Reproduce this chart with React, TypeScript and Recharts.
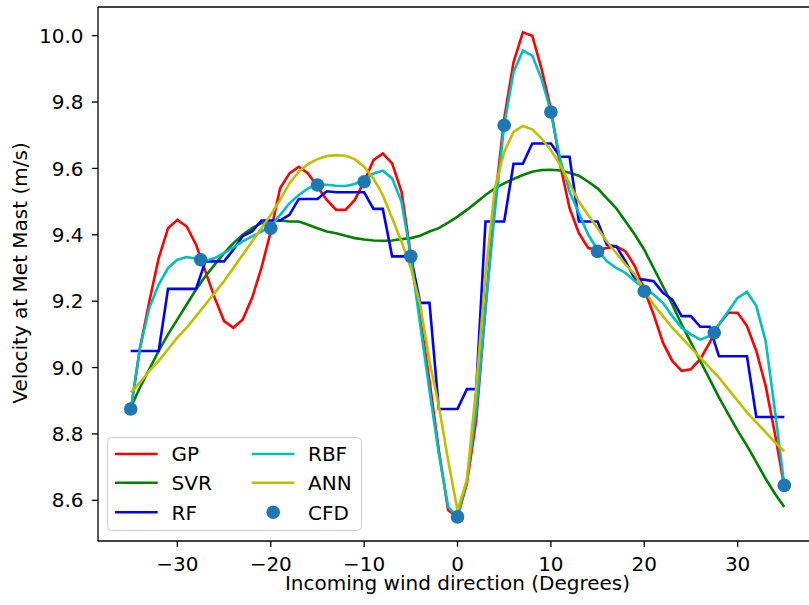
import { ComposedChart, Line, Scatter, XAxis, YAxis, ReferenceLine } from "recharts"

// incoming wind direction, degrees
const DEG = [
  -35, -34, -33, -32, -31, -30, -29, -28, -27, -26, -25, -24, -23, -22, -21, -20, -19, -18,
  -17, -16, -15, -14, -13, -12, -11, -10, -9, -8, -7, -6, -5, -4, -3, -2, -1, 0, 1, 2, 3, 4,
  5, 6, 7, 8, 9, 10, 11, 12, 13, 14, 15, 16, 17, 18, 19, 20, 21, 22, 23, 24, 25, 26, 27,
  28, 29, 30, 31, 32, 33, 34, 35,
]

const GP = [
  8.87, 9.06, 9.2, 9.33, 9.42, 9.445, 9.425, 9.37, 9.29, 9.21, 9.14, 9.12, 9.145, 9.21,
  9.3, 9.41, 9.54, 9.585, 9.605, 9.585, 9.545, 9.505, 9.475, 9.475, 9.505, 9.56, 9.625,
  9.645, 9.615, 9.53, 9.34, 9.15, 8.96, 8.75, 8.57, 8.55, 8.65, 8.84, 9.18, 9.5, 9.75,
  9.92, 10.01, 10.0, 9.9, 9.78, 9.61, 9.48, 9.405, 9.36, 9.355, 9.36, 9.365, 9.35, 9.305,
  9.235, 9.16, 9.075, 9.02, 8.99, 8.995, 9.025, 9.075, 9.13, 9.165, 9.165, 9.125, 9.05,
  8.945, 8.8, 8.64,
]

const SVR = [
  8.88, 8.94, 8.995, 9.05, 9.1, 9.145, 9.19, 9.235, 9.275, 9.31, 9.345, 9.375, 9.4, 9.42,
  9.435, 9.44, 9.443, 9.44, 9.44, 9.43, 9.42, 9.41, 9.405, 9.397, 9.39, 9.386, 9.383,
  9.382, 9.383, 9.387, 9.39, 9.397, 9.41, 9.42, 9.437, 9.455, 9.475, 9.497, 9.52, 9.54,
  9.555, 9.568, 9.58, 9.59, 9.595, 9.596, 9.594, 9.587, 9.578, 9.56, 9.54, 9.51, 9.48,
  9.44, 9.4, 9.355, 9.3, 9.245, 9.19, 9.13, 9.075, 9.02, 8.965, 8.91, 8.86, 8.81, 8.765,
  8.715, 8.665, 8.62, 8.58,
]

const RF = [
  9.05, 9.05, 9.05, 9.05, 9.237, 9.237, 9.237, 9.237, 9.32, 9.32, 9.32, 9.355, 9.396, 9.41,
  9.443, 9.443, 9.443, 9.46, 9.508, 9.508, 9.508, 9.531, 9.528, 9.528, 9.528, 9.528, 9.478,
  9.478, 9.335, 9.335, 9.335, 9.195, 9.195, 8.875, 8.875, 8.875, 8.935, 8.935, 9.44, 9.44,
  9.44, 9.614, 9.614, 9.675, 9.675, 9.675, 9.635, 9.635, 9.44, 9.44, 9.44, 9.37, 9.365,
  9.32, 9.267, 9.265, 9.26, 9.225, 9.205, 9.155, 9.155, 9.123, 9.123, 9.034, 9.034, 9.034,
  9.034, 8.851, 8.851, 8.851, 8.851,
]

const RBF = [
  8.87, 9.06, 9.18, 9.25, 9.3, 9.325, 9.333, 9.328, 9.322, 9.33, 9.345, 9.362, 9.38, 9.395,
  9.41, 9.425, 9.46, 9.495, 9.52, 9.54, 9.552, 9.551, 9.548, 9.547, 9.553, 9.565, 9.585,
  9.593, 9.57, 9.5, 9.335, 9.13, 8.93, 8.74, 8.58, 8.55, 8.66, 8.87, 9.18, 9.47, 9.73,
  9.89, 9.955, 9.94, 9.87, 9.77, 9.627, 9.53, 9.465, 9.4, 9.355, 9.32, 9.3, 9.285, 9.26,
  9.24, 9.22, 9.195, 9.155, 9.12, 9.1, 9.084, 9.095, 9.13, 9.17, 9.21, 9.228, 9.185, 9.08,
  8.87, 8.645,
]

const ANN = [
  8.925, 8.955, 8.99, 9.02, 9.055, 9.09, 9.12, 9.155, 9.19, 9.225, 9.26, 9.3, 9.34, 9.38,
  9.42, 9.46, 9.505, 9.555, 9.59, 9.613, 9.628, 9.637, 9.64, 9.638, 9.628, 9.605, 9.57,
  9.52, 9.45, 9.38, 9.3, 9.19, 9.02, 8.885, 8.72, 8.57, 8.66, 8.94, 9.28, 9.54, 9.65, 9.71,
  9.728, 9.718, 9.69, 9.655, 9.61, 9.555, 9.5, 9.46, 9.42, 9.38, 9.345, 9.31, 9.28, 9.235,
  9.19, 9.155, 9.12, 9.09, 9.06, 9.03, 9.0, 8.97, 8.935, 8.9, 8.865, 8.835, 8.805, 8.775,
  8.748,
]

const CFD_DEG = [-35, -27.5, -20, -15, -10, -5, 0, 5, 10, 15, 20, 27.5, 35]
const CFD = [8.875, 9.325, 9.42, 9.55, 9.56, 9.335, 8.55, 9.73, 9.77, 9.35, 9.23, 9.105, 8.645]

const X_TICKS = [-30, -20, -10, 0, 10, 20, 30]
const Y_TICKS = [8.6, 8.8, 9.0, 9.2, 9.4, 9.6, 9.8, 10.0]

const FONT = "'DejaVu Sans', sans-serif"
const X_DOMAIN: [number, number] = [-38.5, 38.5]
const Y_DOMAIN: [number, number] = [8.4774, 10.0864]

const SERIES = [
  { name: "GP", color: "#ff0000", values: GP },
  { name: "SVR", color: "#008000", values: SVR },
  { name: "RF", color: "#0000ff", values: RF },
  { name: "RBF", color: "#00bfbf", values: RBF },
  { name: "ANN", color: "#bfbf00", values: ANN },
]
const CFD_COLOR = "#1f77b4"

const rows = (ys: number[]) => DEG.map((x, i) => ({ x, v: ys[i] }))
const cfdRows = CFD_DEG.map((x, i) => ({ x, v: CFD[i] }))

const fmtX = (v: number) => (v < 0 ? `\u2212${Math.abs(v)}` : `${v}`)

function ChartLegend() {
  const rowY = [17, 45.7, 75.3]
  const cols = [
    { handle: 8, text: 64.6, items: SERIES.slice(0, 3) },
    { handle: 144.7, text: 201, items: [...SERIES.slice(3), { name: "CFD", color: CFD_COLOR, values: [] }] },
  ]
  return (
    <svg
      width={256}
      height={95}
      style={{ position: "absolute", left: 107, top: 437, fontFamily: FONT }}
    >
      <rect x={0.5} y={0.5} width={254} height={93} rx={4} fill="rgba(255,255,255,0.8)" stroke="#cccccc" />
      {cols.map((c) =>
        c.items.map((s, i) => (
          <g key={s.name}>
            {s.name === "CFD" ? (
              <circle cx={c.handle + 21.5} cy={rowY[i]} r={6.8} fill={CFD_COLOR} />
            ) : (
              <line x1={c.handle} x2={c.handle + 42.7} y1={rowY[i]} y2={rowY[i]} stroke={s.color} strokeWidth={2.6} />
            )}
            <text x={c.text} y={rowY[i] + 7.3} fontSize={20} fill="#000">
              {s.name}
            </text>
          </g>
        ))
      )}
    </svg>
  )
}

export default function App() {
  return (
    <div
      style={{
        position: "fixed",
        left: 0,
        top: 0,
        width: 809,
        height: 605,
        overflow: "hidden",
        background: "#fff",
      }}
    >
      <div style={{ position: "relative", width: 840, height: 605 }}>
        <ComposedChart width={840} height={605} margin={{ top: 7, right: 23, bottom: 0, left: 0 }}>
          <XAxis
            type="number"
            dataKey="x"
            domain={X_DOMAIN}
            allowDataOverflow
            ticks={X_TICKS}
            tickFormatter={fmtX}
            height={64}
            tickSize={6}
            tickMargin={10}
            tick={{ fill: "#000", fontSize: 20, fontFamily: FONT }}
            tickLine={{ stroke: "#000", strokeWidth: 1.3 }}
            axisLine={{ stroke: "#000", strokeWidth: 1.3 }}
            label={() => (
              <text x={457.5} y={590} textAnchor="middle" fontSize={20} fontFamily={FONT} fill="#000">
                Incoming wind direction (Degrees)
              </text>
            )}
          />
          <YAxis
            type="number"
            dataKey="v"
            domain={Y_DOMAIN}
            allowDataOverflow
            ticks={Y_TICKS}
            tickFormatter={(v: number) => v.toFixed(1)}
            width={98}
            tickSize={6}
            tickMargin={8.5}
            tick={{ fill: "#000", fontSize: 20, fontFamily: FONT }}
            tickLine={{ stroke: "#000", strokeWidth: 1.3 }}
            axisLine={{ stroke: "#000", strokeWidth: 1.3 }}
            label={() => (
              <text
                x={27}
                y={273}
                transform="rotate(-90, 27, 273)"
                textAnchor="middle"
                fontSize={20}
                fontFamily={FONT}
                fill="#000"
              >
                Velocity at Met Mast (m/s)
              </text>
            )}
          />
          <ReferenceLine y={Y_DOMAIN[1]} stroke="#000" strokeWidth={1.3} />
          {SERIES.map((s) => (
            <Line
              key={s.name}
              data={rows(s.values)}
              dataKey="v"
              name={s.name}
              type="linear"
              stroke={s.color}
              strokeWidth={2.6}
              dot={false}
              activeDot={false}
              isAnimationActive={false}
            />
          ))}
          <Scatter
            data={cfdRows}
            dataKey="v"
            name="CFD"
            fill={CFD_COLOR}
            isAnimationActive={false}
            shape={(p: any) => <circle cx={p.cx} cy={p.cy} r={6.8} fill={CFD_COLOR} />}
          />
        </ComposedChart>
        <ChartLegend />
      </div>
    </div>
  )
}
